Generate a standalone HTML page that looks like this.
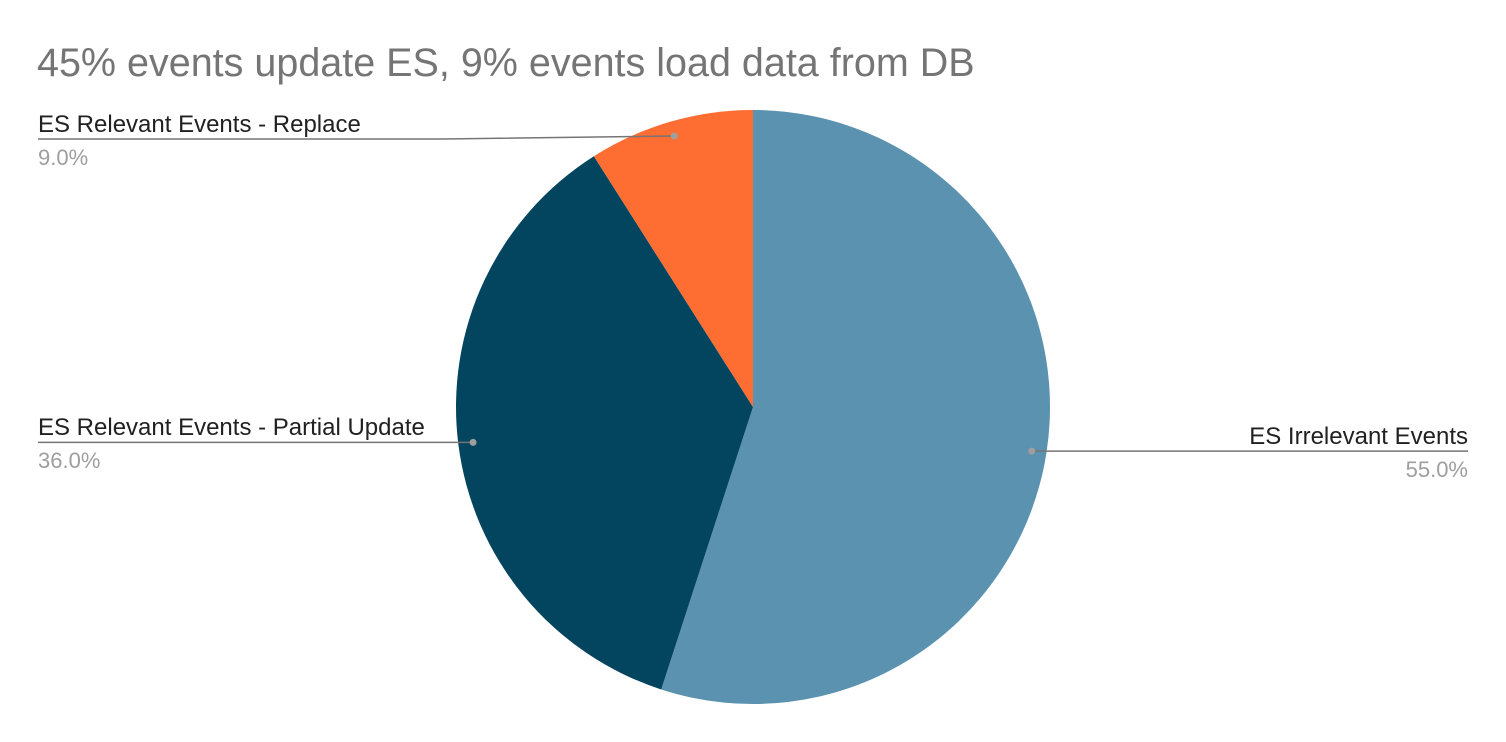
<!DOCTYPE html>
<html><head><meta charset="utf-8">
<style>
html,body{margin:0;padding:0;background:#fff;}
svg{display:block;font-family:"Liberation Sans",Arial,sans-serif;}
</style></head>
<body>
<svg id="chart" width="1506" height="742" viewBox="0 0 1506 742">
<text x="37" y="76" font-size="39.5" fill="#757575">45% events update ES, 9% events load data from DB</text>
<g id="slices"></g>
<g id="labels"></g>
</svg>
<script>
const categories = ["ES Irrelevant Events", "ES Relevant Events - Partial Update", "ES Relevant Events - Replace"];
const values = [55.0, 36.0, 9.0];
const colors = ["#5a92b0", "#03445f", "#fe6d31"];

const NS = "http://www.w3.org/2000/svg";
const cx = 753, cy = 407, r = 297;
const total = values.reduce((a,b)=>a+b,0);
const sg = document.getElementById("slices");
const lg = document.getElementById("labels");
function pt(a, rad){ return [cx + rad*Math.sin(a), cy - rad*Math.cos(a)]; }
let start = 0;
values.forEach((v,i)=>{
  const sweep = v/total*2*Math.PI;
  const end = start + sweep;
  const p0 = pt(start,r), p1 = pt(end,r);
  const path = document.createElementNS(NS,"path");
  path.setAttribute("d",`M${cx},${cy} L${p0[0]},${p0[1]} A${r},${r} 0 ${sweep>Math.PI?1:0} 1 ${p1[0]},${p1[1]} Z`);
  path.setAttribute("fill",colors[i]);
  
  
  sg.appendChild(path);

  const mid = start + sweep/2;
  const d = pt(mid, r*0.95);
  const right = Math.sin(mid) > 0;
  const ly = Math.round(right ? d[1] : (d[1] < 200 ? d[1]+3 : d[1]));
  const line = document.createElementNS(NS,"polyline");
  const endX = right ? 1468 : 38;
  const pts = right ? `${d[0]},${d[1]} ${endX},${d[1]}` :
     (Math.abs(ly-d[1])>1 ? `${d[0]},${d[1]} ${d[0]-230},${ly} ${endX},${ly}` : `${d[0]},${d[1]} ${endX},${d[1]}`);
  line.setAttribute("points",pts);
  line.setAttribute("fill","none");
  line.setAttribute("stroke","#757575");
  line.setAttribute("stroke-width","1.5");
  
  
  lg.appendChild(line);
  const dot = document.createElementNS(NS,"circle");
  dot.setAttribute("cx",d[0]); dot.setAttribute("cy",d[1]); dot.setAttribute("r","3.5");
  dot.setAttribute("fill","#9e9e9e");
  
  
  lg.appendChild(dot);
  const baseY = right ? d[1] : ly;
  const t = document.createElementNS(NS,"text");
  t.setAttribute("x", endX); t.setAttribute("y", baseY-7);
  t.setAttribute("font-size","24"); t.setAttribute("fill","#212121");
  t.setAttribute("text-anchor", right ? "end" : "start");
  t.textContent = categories[i];
  
  
  lg.appendChild(t);
  const p = document.createElementNS(NS,"text");
  p.setAttribute("x", endX); p.setAttribute("y", baseY+26);
  p.setAttribute("font-size","22"); p.setAttribute("fill","#9e9e9e");
  p.setAttribute("text-anchor", right ? "end" : "start");
  p.textContent = v.toFixed(1) + "%";
  
  
  lg.appendChild(p);
  start = end;
});
</script>
</body></html>
